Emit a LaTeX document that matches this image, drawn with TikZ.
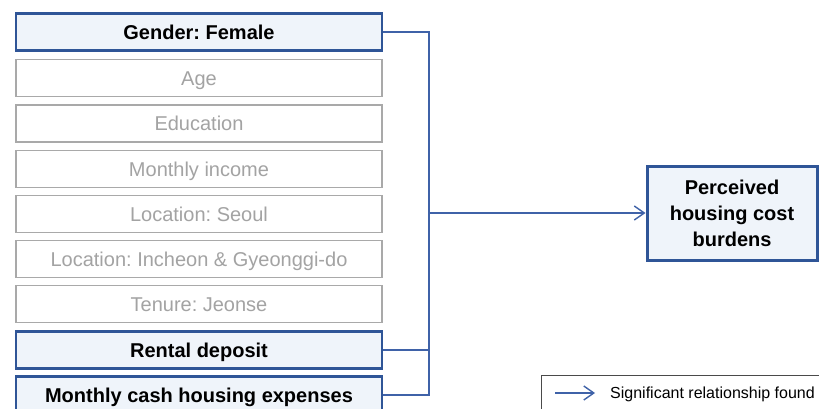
\documentclass[tikz,border=0pt]{standalone}
\usepackage{fontspec}
\setmainfont{Liberation Sans}
\frenchspacing
\usetikzlibrary{arrows.meta}
\definecolor{boxblue}{HTML}{2F5597}
\definecolor{linkblue}{HTML}{3F62A8}
\definecolor{boxfill}{HTML}{EFF4FA}
\definecolor{graybd}{HTML}{A9A9A9}
\definecolor{graytx}{HTML}{A3A3A3}
\definecolor{legbd}{HTML}{4A4A4A}
\tikzset{
  base/.style={rectangle, minimum width=366pt, minimum height=37pt, inner sep=0pt, text height=14.3pt, text depth=0pt, font=\fontsize{20}{24}\selectfont},
  bluebox/.style={base, draw=boxblue, line width=2.6pt, fill=boxfill, font=\fontsize{20}{24}\selectfont\bfseries},
  graybox/.style={base, draw=graybd, line width=1.6pt, fill=white, text=graytx},
  target/.style={rectangle, draw=boxblue, line width=3pt, fill=boxfill, minimum width=170pt, minimum height=94pt, inner sep=0pt, align=center, font=\fontsize{20}{26}\selectfont\bfseries},
  conn/.style={draw=linkblue, line width=1.4pt},
  tip/.style={-{Straight Barb[length=10pt,width=14pt,line width=1.4pt]}},
  legbox/.style={draw=legbd, line width=1pt}
}
\begin{document}
\begin{tikzpicture}[x=1pt,y=-1pt]
\useasboundingbox (0,0) rectangle (819,409);
\node[bluebox] (g) at (199,32) {Gender: Female};
\node[graybox] (age) at (199,78) {Age};
\node[graybox] (edu) at (199,123.5) {Education};
\node[graybox] (inc) at (199,169) {Monthly income};
\node[graybox] (seo) at (199,214) {Location: Seoul};
\node[graybox] (inch) at (199,259) {Location: Incheon \& Gyeonggi-do};
\node[graybox] (ten) at (199,304) {Tenure: Jeonse};
\node[bluebox] (rent) at (199,350) {Rental deposit};
\node[bluebox] (cash) at (199,395) {Monthly cash housing expenses};
\node[target] (t) at (732,213) {Perceived\\housing cost\\burdens};
\coordinate (bus) at (429,213);
\draw[conn] (g.east) -- (g.east -| bus) -- (cash.east -| bus) -- (cash.east);
\draw[conn] (rent.east) -- (rent.east -| bus);
\draw[conn,tip] (bus) -- (t.west);
\node[legbox, rectangle, minimum width=300pt, minimum height=60pt, anchor=north west] (leg) at (541,375) {};
\coordinate (la) at (555,393);
\coordinate (lb) at (595,393);
\draw[conn,tip] (la) -- (lb);
\node[anchor=west, inner sep=0pt, font=\fontsize{16}{19}\selectfont] (lt) at (610,394) {Significant relationship found};
\end{tikzpicture}
\end{document}
